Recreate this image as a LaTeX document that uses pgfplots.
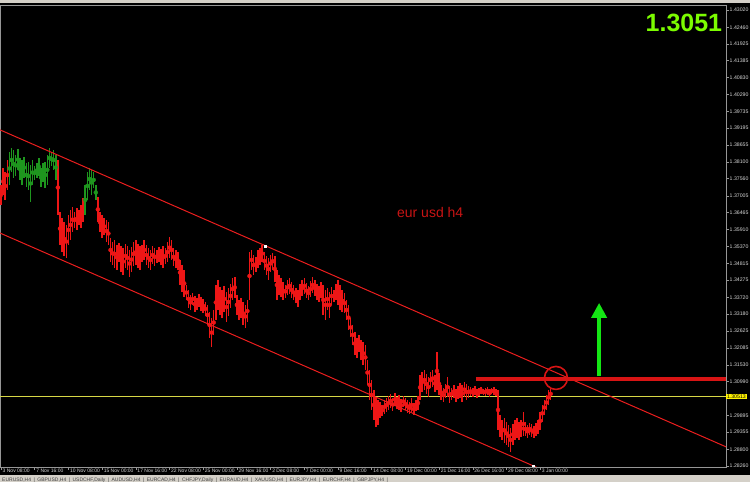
\documentclass[border=0pt]{standalone}
\usepackage{pgfplots}
\pgfplotsset{compat=1.18}
\usepackage{pgfplotstable}
\usepackage{fontspec}
\setmainfont{Liberation Sans}
\usetikzlibrary{arrows.meta}
\definecolor{barred}{RGB}{238,22,22}
\definecolor{bargreen}{RGB}{30,150,30}
\definecolor{chanred}{RGB}{235,30,30}
\definecolor{hred}{RGB}{215,20,20}
\definecolor{bidyellow}{RGB}{215,215,70}
\definecolor{framegrey}{RGB}{150,150,150}
\definecolor{labgrey}{RGB}{215,215,215}
\definecolor{wingrey}{RGB}{212,208,200}
\definecolor{bigtext}{RGB}{124,252,0}
\definecolor{arrowgreen}{RGB}{20,230,20}
\definecolor{txtred}{RGB}{200,20,20}

\pgfplotstableread{
i hi lo
0 1.3736 1.3671
1 1.3791 1.3703
2 1.3778 1.3687
3 1.3816 1.3719
4 1.3842 1.3736
5 1.3855 1.3778
6 1.3849 1.3758
7 1.3833 1.3765
8 1.3852 1.3784
9 1.3823 1.3752
10 1.3816 1.3736
11 1.3826 1.3758
12 1.3807 1.3729
13 1.3810 1.3719
14 1.3800 1.3681
15 1.3816 1.3736
16 1.3797 1.3752
17 1.3807 1.3758
18 1.3823 1.3765
19 1.3791 1.3729
20 1.3807 1.3745
21 1.3810 1.3726
22 1.3833 1.3736
23 1.3855 1.3791
24 1.3842 1.3797
25 1.3849 1.3784
26 1.3833 1.3752
27 1.3816 1.3639
28 1.3648 1.3541
29 1.3629 1.3519
30 1.3616 1.3506
31 1.3606 1.3499
32 1.3639 1.3541
33 1.3655 1.3558
34 1.3664 1.3583
35 1.3648 1.3596
36 1.3661 1.3590
37 1.3655 1.3606
38 1.3671 1.3596
39 1.3694 1.3616
40 1.3736 1.3639
41 1.3778 1.3687
42 1.3791 1.3719
43 1.3784 1.3703
44 1.3778 1.3726
45 1.3736 1.3687
46 1.3697 1.3616
47 1.3648 1.3583
48 1.3639 1.3564
49 1.3629 1.3574
50 1.3622 1.3551
51 1.3616 1.3541
52 1.3564 1.3486
53 1.3551 1.3477
54 1.3558 1.3467
55 1.3541 1.3461
56 1.3548 1.3486
57 1.3538 1.3454
58 1.3532 1.3444
59 1.3545 1.3467
60 1.3538 1.3461
61 1.3525 1.3438
62 1.3535 1.3454
63 1.3551 1.3474
64 1.3558 1.3477
65 1.3545 1.3467
66 1.3538 1.3461
67 1.3541 1.3486
68 1.3558 1.3493
69 1.3541 1.3477
70 1.3532 1.3467
71 1.3525 1.3461
72 1.3538 1.3480
73 1.3532 1.3474
74 1.3525 1.3483
75 1.3535 1.3486
76 1.3529 1.3477
77 1.3538 1.3467
78 1.3532 1.3480
79 1.3551 1.3486
80 1.3567 1.3499
81 1.3558 1.3493
82 1.3532 1.3474
83 1.3525 1.3467
84 1.3519 1.3461
85 1.3493 1.3412
86 1.3477 1.3389
87 1.3461 1.3373
88 1.3412 1.3363
89 1.3396 1.3338
90 1.3380 1.3331
91 1.3386 1.3347
92 1.3376 1.3325
93 1.3370 1.3331
94 1.3383 1.3341
95 1.3373 1.3328
96 1.3367 1.3321
97 1.3357 1.3312
98 1.3347 1.3283
99 1.3325 1.3240
100 1.3305 1.3211
101 1.3331 1.3250
102 1.3412 1.3299
103 1.3428 1.3331
104 1.3405 1.3315
105 1.3396 1.3305
106 1.3409 1.3325
107 1.3389 1.3292
108 1.3402 1.3312
109 1.3415 1.3338
110 1.3435 1.3363
111 1.3438 1.3370
112 1.3380 1.3315
113 1.3363 1.3299
114 1.3370 1.3305
115 1.3357 1.3283
116 1.3347 1.3273
117 1.3363 1.3292
118 1.3519 1.3363
119 1.3525 1.3461
120 1.3509 1.3444
121 1.3503 1.3454
122 1.3525 1.3467
123 1.3532 1.3477
124 1.3541 1.3486
125 1.3519 1.3461
126 1.3506 1.3444
127 1.3499 1.3428
128 1.3509 1.3454
129 1.3516 1.3461
130 1.3506 1.3422
131 1.3461 1.3363
132 1.3444 1.3380
133 1.3435 1.3373
134 1.3422 1.3363
135 1.3412 1.3370
136 1.3428 1.3380
137 1.3435 1.3383
138 1.3422 1.3370
139 1.3412 1.3363
140 1.3402 1.3354
141 1.3396 1.3341
142 1.3415 1.3363
143 1.3428 1.3376
144 1.3435 1.3383
145 1.3418 1.3370
146 1.3409 1.3363
147 1.3425 1.3373
148 1.3438 1.3386
149 1.3428 1.3376
150 1.3415 1.3363
151 1.3409 1.3357
152 1.3422 1.3370
153 1.3412 1.3315
154 1.3396 1.3299
155 1.3402 1.3331
156 1.3389 1.3305
157 1.3405 1.3347
158 1.3396 1.3357
159 1.3415 1.3363
160 1.3428 1.3347
161 1.3412 1.3331
162 1.3396 1.3325
163 1.3386 1.3321
164 1.3363 1.3299
165 1.3347 1.3266
166 1.3305 1.3244
167 1.3283 1.3218
168 1.3260 1.3185
169 1.3240 1.3176
170 1.3250 1.3195
171 1.3234 1.3169
172 1.3228 1.3153
173 1.3218 1.3137
174 1.3169 1.3088
175 1.3137 1.3040
176 1.3105 1.3007
177 1.3072 1.2975
178 1.3049 1.2952
179 1.3040 1.2959
180 1.3033 1.2982
181 1.3024 1.2988
182 1.3040 1.2995
183 1.3046 1.3001
184 1.3053 1.3007
185 1.3059 1.3014
186 1.3046 1.3004
187 1.3062 1.3020
188 1.3049 1.3011
189 1.3056 1.3007
190 1.3043 1.3001
191 1.3053 1.3017
192 1.3046 1.3007
193 1.3040 1.2998
194 1.3033 1.2995
195 1.3046 1.3001
196 1.3030 1.2991
197 1.3040 1.3004
198 1.3053 1.3007
199 1.3121 1.3040
200 1.3130 1.3066
201 1.3137 1.3072
202 1.3124 1.3059
203 1.3114 1.3049
204 1.3130 1.3079
205 1.3137 1.3082
206 1.3121 1.3066
207 1.3195 1.3072
208 1.3127 1.3056
209 1.3088 1.3040
210 1.3079 1.3033
211 1.3092 1.3046
212 1.3114 1.3049
213 1.3085 1.3030
214 1.3079 1.3040
215 1.3088 1.3046
216 1.3075 1.3033
217 1.3085 1.3043
218 1.3095 1.3046
219 1.3088 1.3033
220 1.3098 1.3049
221 1.3092 1.3040
222 1.3085 1.3046
223 1.3082 1.3053
224 1.3079 1.3049
225 1.3085 1.3056
226 1.3075 1.3046
227 1.3079 1.3053
228 1.3082 1.3059
229 1.3075 1.3056
230 1.3079 1.3053
231 1.3082 1.3056
232 1.3075 1.3049
233 1.3079 1.3059
234 1.3082 1.3056
235 1.3075 1.3053
236 1.3072 1.2943
237 1.2991 1.2920
238 1.2975 1.2910
239 1.2982 1.2901
240 1.2969 1.2894
241 1.2959 1.2888
242 1.2949 1.2872
243 1.2962 1.2894
244 1.2975 1.2910
245 1.2982 1.2917
246 1.2969 1.2910
247 1.2975 1.2920
248 1.3001 1.2923
249 1.2969 1.2923
250 1.2959 1.2917
251 1.2965 1.2927
252 1.2962 1.2920
253 1.2956 1.2917
254 1.2965 1.2923
255 1.2975 1.2930
256 1.3001 1.2943
257 1.3024 1.2969
258 1.3040 1.2991
259 1.3056 1.3007
260 1.3072 1.3024
261 1.3079 1.3040
}\bars

\pgfplotsset{
  hlbar/.style={color=#1, only marks, mark=none, forget plot,
    error bars/.cd, y dir=both, y explicit, error mark=none,
    error bar style={line width=1.5pt, line cap=butt, draw=#1, color=#1}},
}

\begin{document}
\begin{tikzpicture}[x=1pt,y=1pt]
\useasboundingbox (0,0) rectangle (750,482);
\fill[black] (0,0) rectangle (750,482);
\fill[wingrey] (0,479) rectangle (750,482);
\fill[wingrey] (0,0) rectangle (750,6.5);
\node[anchor=base west, inner sep=0pt, text=black!75, font=\fontsize{5}{6}\selectfont] at (2,0.5)
  {EURUSD,H4\enspace|\enspace GBPUSD,H4\enspace|\enspace USDCHF,Daily\enspace|\enspace AUDUSD,H4\enspace|\enspace EURCAD,H4\enspace|\enspace CHFJPY,Daily\enspace|\enspace EURAUD,H4\enspace|\enspace XAUUSD,H4\enspace|\enspace EURJPY,H4\enspace|\enspace EURCHF,H4\enspace|\enspace GBPJPY,H4\enspace|};
\begin{axis}[
  at={(0pt,15pt)}, anchor=south west, scale only axis,
  width=726pt, height=462pt,
  xmin=-0.475, xmax=344.25, ymin=1.28227, ymax=1.43182,
  clip mode=individual,
  axis line style={draw=framegrey, line width=0.6pt},
  xtick pos=left, ytick pos=right,
  xticklabel pos=left, yticklabel pos=right,
  tick align=outside, major tick length=3pt,
  tick style={draw=framegrey, line width=0.5pt},
  xtick={0,16,...,256},
  xticklabels={3 Nov 08:00,7 Nov 16:00,10 Nov 08:00,15 Nov 00:00,17 Nov 16:00,22 Nov 08:00,25 Nov 00:00,29 Nov 16:00,2 Dec 08:00,7 Dec 00:00,9 Dec 16:00,14 Dec 08:00,19 Dec 00:00,21 Dec 16:00,26 Dec 16:00,29 Dec 08:00,3 Jan 00:00},
  ytick={1.43020,1.42460,1.41925,1.41385,1.40830,1.40290,1.39735,1.39195,1.38655,1.38100,1.37560,1.37005,1.36465,1.35910,1.35370,1.34815,1.34275,1.33720,1.33180,1.32625,1.32085,1.31530,1.30990,1.29895,1.29355,1.28800,1.28260},
  yticklabels={1.43020,1.42460,1.41925,1.41385,1.40830,1.40290,1.39735,1.39195,1.38655,1.38100,1.37560,1.37005,1.36465,1.35910,1.35370,1.34815,1.34275,1.33720,1.33180,1.32625,1.32085,1.31530,1.30990,1.29895,1.29355,1.28800,1.28260},
  /pgf/number format/assume math mode=true,
  xticklabel style={font=\fontsize{5}{6}\selectfont, text=labgrey, anchor=north west, inner sep=0pt, xshift=1.5pt, yshift=1pt},
  yticklabel style={font=\fontsize{5.2}{6}\selectfont, text=labgrey, anchor=west, inner sep=0pt, xshift=0.5pt},
]
% bid line
\addplot[bidyellow, line width=0.7pt, forget plot] coordinates {(-0.475,1.30513) (344.25,1.30513)};
% bars
\addplot[hlbar=barred] table[x=i, y expr=(\thisrow{hi}+\thisrow{lo})/2, y error expr=(\thisrow{hi}-\thisrow{lo})/2, restrict x to domain=-1:3.5] {\bars};
\addplot[hlbar=barred] table[x=i, y expr=(\thisrow{hi}+\thisrow{lo})/2, y error expr=(\thisrow{hi}-\thisrow{lo})/2, restrict x to domain=26.5:39.5] {\bars};
\addplot[hlbar=barred] table[x=i, y expr=(\thisrow{hi}+\thisrow{lo})/2, y error expr=(\thisrow{hi}-\thisrow{lo})/2, restrict x to domain=45.5:262] {\bars};
\addplot[hlbar=bargreen] table[x=i, y expr=(\thisrow{hi}+\thisrow{lo})/2, y error expr=(\thisrow{hi}-\thisrow{lo})/2, restrict x to domain=3.5:26.5] {\bars};
\addplot[hlbar=bargreen] table[x=i, y expr=(\thisrow{hi}+\thisrow{lo})/2, y error expr=(\thisrow{hi}-\thisrow{lo})/2, restrict x to domain=39.5:45.5] {\bars};
% channel
\addplot[chanred, line width=1pt, forget plot] coordinates {(-0.475,1.3914) (344.25,1.2888)};
\addplot[chanred, line width=1pt, forget plot] coordinates {(-0.475,1.3580) (344.25,1.2554)};
\addplot[only marks, mark=square*, mark size=0.9pt, white, forget plot] coordinates {(125.4,1.3538) (252.6,1.2827)};
% horizontal level
\addplot[hred, line width=3.4pt, forget plot] coordinates {(225.5,1.3108) (344.25,1.3108)};
\draw[hred, line width=1.6pt] (axis cs:263.5,1.3111) circle[radius=11.5pt];
\draw[arrowgreen, line width=3.8pt, -{Triangle[width=15pt,length=15pt]}] (axis cs:284,1.3117) -- (axis cs:284,1.3354);
\node[txtred, font=\fontsize{14}{16}\selectfont] at (axis cs:203.8,1.3648) {eur usd h4};
\node[bigtext, font=\fontsize{25}{28}\bfseries\selectfont, anchor=east, inner sep=0pt] at (axis cs:342.5,1.4260) {1.3051};
\node[fill=yellow, text=black, anchor=west, inner xsep=0.8pt, inner ysep=1pt, font=\fontsize{5.2}{6}\selectfont] at (axis cs:344.25,1.30513) {1.30513};
\end{axis}
\end{tikzpicture}
\end{document}
